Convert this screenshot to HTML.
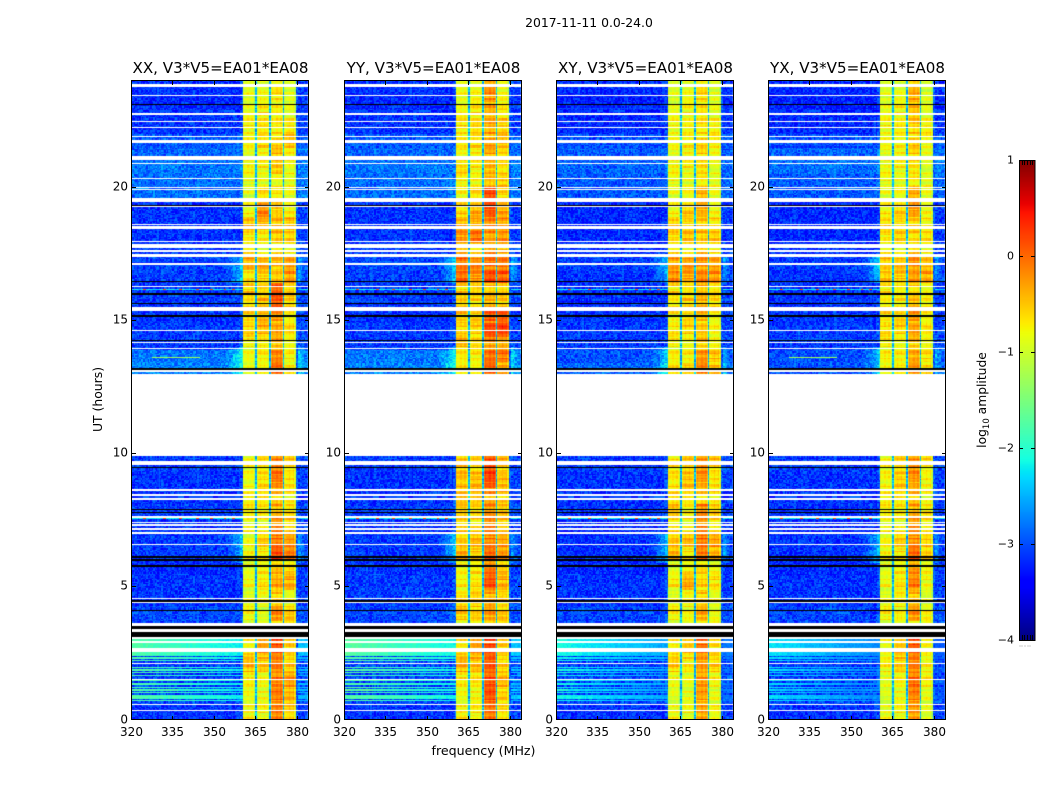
<!DOCTYPE html>
<html lang="en">
<head>
<meta charset="utf-8">
<title>2017-11-11 spectrograms</title>
<style>
html,body{margin:0;padding:0;background:#fff;}
#figure{position:relative;width:1050px;height:800px;overflow:hidden;background:#fff;font-family:"DejaVu Sans","Liberation Sans",sans-serif;}
canvas{position:absolute;display:block;}
#overlay{position:absolute;left:0;top:0;}
text{font-family:"DejaVu Sans","Liberation Sans",sans-serif;fill:#000;}
</style>
</head>
<body>
<div id="figure">
<svg id="overlay" width="1050" height="800" viewBox="0 0 1050 800">
<text x="589" y="27" font-size="12.4" text-anchor="middle">2017-11-11 0.0-24.0</text>
<text x="483.5" y="755" font-size="12.6" text-anchor="middle">frequency (MHz)</text>
<text transform="translate(102,399.5) rotate(-90)" font-size="12.4" text-anchor="middle">UT (hours)</text>
<text transform="translate(986,400) rotate(-90)" font-size="12.3" text-anchor="middle">log<tspan font-size="8.5" dy="3">10</tspan><tspan dy="-3"> amplitude</tspan></text>
</svg>
</div>
<script>
// ---- axis values ----
const freqTicks = [320, 335, 350, 365, 380];
const hourTicks = [0, 5, 10, 15, 20];
const colorbarTicks = [1, 0, -1, -2, -3, -4];
const panelTitles = ["XX, V3*V5=EA01*EA08", "YY, V3*V5=EA01*EA08", "XY, V3*V5=EA01*EA08", "YX, V3*V5=EA01*EA08"];

// ---- time segments: upper hour of each segment, shared by all panels ----
const segmentTopHours = [0.6,1.2,1.8,2.5,3.1,3.7,4.3,4.9,5.5,6.0,6.5,7.0,7.6,8.1,8.7,9.3,9.9,13.0,13.4,13.9,14.4,14.9,15.4,15.9,16.4,16.9,17.4,17.9,18.4,18.9,19.5,20.0,20.5,21.0,21.5,22.0,22.5,23.0,23.5,24.0];

// ---- log10 amplitude per segment: [background, band 1, band 2, band 3, band 4]; null = no data ----
const levelsXX = [
[-3.15,-.85,-.8,-.15,-.55],[-3.05,-.85,-.85,-.2,-.4],[-3.1,-.75,-.8,-.2,-.35],[-3.1,-.55,-.5,-.15,-.55],[-2.95,-.8,-.35,.05,-.5],
[-3.05,-.85,-.8,-.6,-.7],[-3.05,-.9,-.95,-.2,-.5],[-3.15,-.95,-.9,-.6,-.85],[-3.15,-.85,-.65,-.45,-.35],[-3.2,-.95,-.75,-.5,-.7],
[-3.1,-.9,-.7,.1,-.05],[-3.1,-.85,-.6,-.1,-.25],[-3.15,-.85,-.75,-.3,-.5],[-3.1,-.75,-.7,-.45,-.7],[-3.15,-.85,-.7,-.5,-.7],
[-3.15,-.85,-.7,-.15,-.65],[-3.1,-.8,-.6,-.2,-.6],null,
[-2.75,-.95,-.85,-.15,-.7],[-2.8,-.85,-.7,-.2,-.8],[-3.1,-.9,-.7,-.4,-.85],[-3.1,-.65,-.45,-.35,-.6],[-3.15,-.65,-.5,-.4,-.75],
[-3.1,-.7,-.45,0,-.65],[-3.1,-.6,-.55,.1,-.55],[-3.1,-.8,-.6,-.55,-.25],[-3.05,-.4,-.45,-.5,-.3],[-3.1,-.7,-.8,-.8,-.85],
[-3.15,-.7,-.7,-.5,-.6],[-3.15,-.55,-.4,-.45,-.4],[-3.15,-.8,-.25,-.55,-.7],[-2.85,-.95,-.55,-.75,-.85],[-2.85,-.95,-.85,-.8,-.9],
[-2.8,-.85,-.8,-.55,-.8],[-2.9,-.85,-.75,-.5,-.7],[-2.95,-.8,-.6,-.7,-.45],[-3.15,-.8,-.65,-.7,-.75],[-3.15,-.9,-.7,-.75,-.8],
[-3.2,-.9,-.85,-.8,-.9],[-3.15,-.9,-.85,-.75,-.9]];
const levelsYY = [
[-3.15,-.8,-.75,-.1,-.6],[-3.05,-.85,-.8,0,-.55],[-3.05,-.7,-.65,.05,-.5],[-3.05,-.5,-.45,.05,-.55],[-2.9,-.7,-.35,.1,-.5],
[-3.05,-.8,-.75,-.5,-.7],[-3.05,-.6,-.55,-.3,-.5],[-3.1,-.7,-.65,-.4,-.55],[-3.1,-.8,-.65,.0,-.4],[-3.15,-.8,-.7,-.15,-.6],
[-3.1,-.5,-.55,-.05,-.2],[-3.1,-.55,-.5,-.15,-.3],[-3.15,-.6,-.6,-.25,-.45],[-3.1,-.55,-.6,-.25,-.55],[-3.15,-.55,-.5,-.3,-.5],
[-3.15,-.5,-.5,.1,-.45],[-3.1,-.5,-.55,.05,-.5],null,
[-2.75,-.8,-.85,-.15,-.35],[-2.8,-.75,-.7,-.1,-.15],[-3.1,-.55,-.6,-.25,-.4],[-3.1,-.65,-.6,.15,.2],[-3.15,-.55,-.6,-.1,.05],
[-3.1,-.6,-.65,-.5,-.6],[-3.1,-.6,-.55,-.5,-.55],[-3.1,-.1,-.25,.1,.1],[-3.05,-.1,-.25,-.15,-.1],[-3.1,-.45,-.55,-.35,-.45],
[-3.15,-.25,-.05,-.3,-.3],[-3.15,-.5,-.4,-.2,-.25],[-3.15,-.6,-.45,.1,-.3],[-2.85,-.8,-.55,.15,-.6],[-2.85,-.8,-.75,-.45,-.55],
[-2.8,-.7,-.75,-.45,-.6],[-2.9,-.75,-.7,-.4,-.6],[-2.95,-.75,-.6,-.45,-.45],[-3.15,-.7,-.6,-.35,-.6],[-3.15,-.8,-.7,-.4,-.6],
[-3.2,-.85,-.8,-.35,-.75],[-3.15,-.85,-.8,-.3,-.8]];
const levelsXY = [
[-3.15,-.9,-.85,-.35,-.75],[-3.05,-.95,-.9,-.4,-.85],[-3.05,-.85,-.85,-.3,-.85],[-3.1,-.65,-.7,-.3,-.55],[-2.85,-.75,-.55,-.1,-.6],
[-3.05,-.85,-.8,-.65,-.8],[-3.05,-.85,-.8,-.4,-.85],[-3.15,-.95,-.85,-.6,-.85],[-3.15,-.75,-.35,-.7,-.65],[-3.2,-.95,-.75,-.65,-.9],
[-3.15,-.55,-.7,-.15,-.35],[-3.15,-.5,-.5,-.1,-.3],[-3.2,-.7,-.75,-.3,-.6],[-3.15,-.5,-.75,-.2,-.6],[-3.15,-.7,-.7,-.6,-.7],
[-3.15,-.7,-.55,-.35,-.65],[-3.1,-.7,-.5,-.3,-.55],null,
[-2.9,-.7,-.65,-.3,-.45],[-3.0,-.75,-.7,-.3,-.55],[-3.1,-.85,-.8,-.5,-.8],[-3.1,-.75,-.6,-.55,-.75],[-3.15,-.8,-.7,-.6,-.8],
[-3.15,-.75,-.55,-.5,-.7],[-3.15,-.7,-.65,-.45,-.65],[-3.15,-.3,-.35,-.2,-.2],[-3.1,-.35,-.35,-.3,-.3],[-3.15,-.7,-.7,-.6,-.75],
[-3.2,-.6,-.45,-.5,-.55],[-3.2,-.65,-.6,-.55,-.6],[-3.2,-.8,-.6,-.4,-.75],[-2.95,-.9,-.7,-.45,-.85],[-2.95,-.9,-.85,-.7,-.9],
[-2.9,-.85,-.8,-.65,-.85],[-2.95,-.85,-.75,-.65,-.8],[-3.0,-.85,-.7,-.7,-.7],[-3.2,-.85,-.75,-.65,-.8],[-3.2,-.9,-.8,-.7,-.8],
[-3.25,-.95,-.85,-.7,-.9],[-3.2,-.95,-.85,-.7,-.9]];
const levelsYX = [
[-3.15,-.95,-.8,-.3,-.85],[-3.05,-.95,-.85,-.25,-.85],[-3.1,-.9,-.75,-.1,-.8],[-3.1,-.85,-.55,-.15,-.75],[-2.95,-.85,-.55,.0,-.75],
[-3.05,-.9,-.85,-.7,-.85],[-3.05,-.85,-.75,-.25,-.75],[-3.15,-.95,-.8,-.5,-.9],[-3.15,-.85,-.65,-.25,-.8],[-3.2,-.95,-.75,-.3,-.85],
[-3.15,-.9,-.7,-.05,-.5],[-3.15,-.8,-.6,-.2,-.55],[-3.2,-.85,-.75,-.35,-.65],[-3.15,-.75,-.7,-.4,-.75],[-3.15,-.8,-.7,-.45,-.8],
[-3.15,-.8,-.6,-.35,-.75],[-3.1,-.8,-.55,-.3,-.7],null,
[-3.0,-.9,-.8,-.4,-.6],[-3.0,-.75,-.7,-.4,-.7],[-3.1,-.85,-.8,-.5,-.85],[-3.1,-.7,-.6,-.35,-.65],[-3.15,-.7,-.65,-.4,-.75],
[-3.15,-.8,-.7,-.55,-.8],[-3.15,-.75,-.7,-.6,-.8],[-3.15,-.6,-.55,-.3,-.3],[-3.1,-.55,-.55,-.3,-.45],[-3.15,-.8,-.75,-.65,-.85],
[-3.2,-.7,-.55,-.6,-.7],[-3.2,-.7,-.65,-.6,-.7],[-3.2,-.75,-.65,-.3,-.75],[-2.95,-.9,-.75,-.4,-.85],[-2.95,-.9,-.85,-.7,-.9],
[-2.85,-.9,-.8,-.7,-.9],[-2.9,-.85,-.75,-.6,-.85],[-3.0,-.85,-.75,-.65,-.8],[-3.2,-.85,-.7,-.55,-.8],[-3.2,-.9,-.8,-.5,-.85],
[-3.25,-.9,-.85,-.45,-.9],[-3.2,-.95,-.9,-.5,-.95]];
const panelLevels = [levelsXX, levelsYY, levelsXY, levelsYX];

// ---- frequency structure: 4 bands, in MHz ----
const bandStarts = [360.5, 365.5, 370.5, 375.5];
const bandEnds = [364.9, 369.9, 374.9, 379.6];
const bandGapLevels = [-2.5, -2.5, -2.5, -2.95];

// ---- hour ranges where the band edges leak into the neighbouring background ----
const shoulderStarts = [2.5, 5.9, 13.0, 16.4];
const shoulderEnds = [3.1, 7.0, 14.0, 17.4];

// ---- hours of narrow horizontal interference stripes, and per-panel stripe level ----
const stripeHours = [3.05,2.97,2.9,2.82,2.75,2.68,2.5,2.41,2.32,2.23,2.13,1.98,1.88,1.78,1.67,1.5,1.35,1.23,1.13,1.03,.9,.82,.73];
const stripeLevels = [-1.75, -1.7, -2.1, -2.25];

// ---- hours of rows carrying sparse strong spikes, and the spike frequencies ----
const spikeHours = [16.19, 7.59, 9.69];
const spikeFreqs = [325, 332, 338, 344, 349, 354, 357];
const spikeRowLevels = [-2.2, -2.2, -2.0];

// ---- narrow vertical interference: frequency, start hour, end hour, level ----
const rfiFreqs = [340, 340, 351.5, 351.5, 350, 381.5];
const rfiStarts = [4.7, 13.7, 6.5, 14, 20, 5];
const rfiEnds = [6.9, 16.3, 9.5, 21.3, 22, 9.5];
const rfiLevels = [-2.2, -2.2, -2.3, -2.3, -2.1, -2.0];

// ---- narrow-band tone seen on a single panel: panel index, hour, start and end frequency ----
const tonePanels = [0, 3];
const toneHours = [13.63, 13.63];
const toneStarts = [327.5, 327.5];
const toneEnds = [345, 345];

// ---- flagged rows (white) and dead rows (black): centre hour and thickness in hours ----
const whiteHours = [23.84,23.46,22.76,22.48,22.26,21.92,21.77,21.71,21.15,21.07,20.91,20.34,19.94,19.54,19.30,18.62,18.52,18.47,17.97,17.85,17.76,17.61,17.47,17.42,17.13,16.28,15.47,15.40,14.63,14.19,13.96,13.11,9.72,9.63,8.64,8.45,8.30,7.62,7.43,7.32,7.17,7.03,6.59,4.57,4.41,3.59,3.36,3.08,2.93,2.63,2.12,1.52,.59,.36];
const whiteThickness = [.1,.05,.05,.05,.05,.05,.05,.05,.05,.05,.05,.05,.04,.16,.05,.05,.04,.05,.05,.05,.05,.05,.05,.04,.05,.05,.05,.05,.05,.05,.05,.05,.05,.1,.08,.05,.05,.05,.05,.05,.05,.05,.05,.05,.05,.11,.1,.05,.05,.13,.04,.03,.05,.05];
const blackHours = [23.12,19.32,16.47,15.99,15.65,15.17,14.25,13.18,9.49,7.91,7.8,6.13,6.01,5.78,4.48,4.11,3.47,3.21];
const blackThickness = [.05,.05,.05,.06,.05,.06,.05,.08,.05,.05,.05,.06,.08,.06,.05,.05,.11,.19];

// ---- hand-typed fine grain (a fixed texture, not measured pixel values) ----
const grainTile = [.31,-.72,.08,.93,-.41,-.12,.66,-.95,.22,.47,-.58,.14,-.29,.81,-.66,.03,.52,-.84,.38,-.18,.71,-.47,.11,-.77,.59,-.06,.88,-.33,.25,-.61,.42,-.91,.17,.75,-.24,.55,-.52,-.09,.97,-.38,.29];

// ---- cell grid and layout ----
const CH_WIDTH = 0.5;
const ROW_HEIGHT = 0.05;
const freqMin = 320, freqMax = 384, hourMin = 0, hourMax = 24;
const panelLefts = [131, 344, 556, 768];
const panelW = 177, panelTop = 81, panelH = 639;
const cbarLeft = 1019, cbarW = 16, cbarTop = 160, cbarH = 480;
const ampMin = -4, ampMax = 1;

const figure = document.getElementById('figure');
const overlay = document.getElementById('overlay');
const SVG_NS = 'http://www.w3.org/2000/svg';

function xScale(mhz, left) { return left + (mhz - freqMin) / (freqMax - freqMin) * panelW; }
function yScale(hour) { return panelTop + panelH - (hour - hourMin) / (hourMax - hourMin) * panelH; }
function ampScale(v) { return cbarTop + cbarH - (v - ampMin) / (ampMax - ampMin) * cbarH; }

function interp(t, xs, ys) {
  if (t <= xs[0]) return ys[0];
  for (let i = 1; i < xs.length; i++) {
    if (t <= xs[i]) return ys[i - 1] + (ys[i] - ys[i - 1]) * (t - xs[i - 1]) / (xs[i] - xs[i - 1]);
  }
  return ys[ys.length - 1];
}
function jet(v) {
  const t = Math.max(0, Math.min(1, (v - ampMin) / (ampMax - ampMin)));
  const r = interp(t, [0, .35, .66, .89, 1], [0, 0, 1, 1, .5]);
  const g = interp(t, [0, .125, .375, .64, .91, 1], [0, 0, 1, 1, 0, 0]);
  const b = interp(t, [0, .11, .34, .65, 1], [.5, 1, 1, 0, 0]);
  return 'rgb(' + Math.round(r * 255) + ',' + Math.round(g * 255) + ',' + Math.round(b * 255) + ')';
}
function segmentIndex(hour) {
  for (let i = 0; i < segmentTopHours.length; i++) if (hour < segmentTopHours[i]) return i;
  return segmentTopHours.length - 1;
}
function grain(c, r, salt) {
  const n = grainTile.length;
  return grainTile[(c * 7 + r * 13 + (c * r) % 29 + salt * 5) % n];
}
function inShoulder(hour) {
  for (let i = 0; i < shoulderStarts.length; i++) if (hour >= shoulderStarts[i] && hour < shoulderEnds[i]) return true;
  return false;
}
function cellValue(p, c, r, mhz, hour) {
  const lv = panelLevels[p][segmentIndex(hour)];
  if (!lv) return null;
  const g = grain(c, r, p);
  let band = -1;
  for (let b = 0; b < 4; b++) if (mhz >= bandStarts[b] && mhz < bandEnds[b]) band = b;
  if (band >= 0) {
    const rowWobble = grainTile[(r * 3 + band * 11) % grainTile.length] * .18;
    const ripple = (r % 5 < 2 ? .14 : -.05) + (c % 3 === 0 ? .08 : -.04);
    let v = lv[band + 1] + rowWobble + ripple + g * .08;
    if (mhz - bandStarts[band] < .5 || bandEnds[band] - mhz < .5) v -= band === 0 && mhz < 361 ? .08 : .2;
    return v;
  }
  for (let b = 0; b < 4; b++) {
    if (mhz >= bandEnds[b] && mhz < bandEnds[b] + .7) return bandGapLevels[b] + g * .35;
  }
  let v = lv[0] + g * .35;
  if (mhz >= 380.4) v += .06;
  if (mhz > 359 && mhz < 360.5) v += (mhz - 359) / 1.5 * .2;
  if (inShoulder(hour)) {
    if (mhz > 354 && mhz < 360.5) v += (mhz - 354) / 6.5 * .6;
    if (mhz >= 380.4 && mhz < 383) v += (383 - mhz) / 2.6 * .5;
  }
  if (mhz < 360.5 || mhz >= 380.4) {
    for (let s = 0; s < stripeHours.length; s++) {
      if (Math.abs(hour - stripeHours[s]) < .03) v = stripeLevels[p] + g * .12 - (mhz - 320) / 40 * .45;
    }
    for (let s = 0; s < spikeHours.length; s++) {
      if (Math.abs(hour - spikeHours[s]) < .03) {
        v = spikeRowLevels[s] + g * .2;
        for (let k = 0; k < spikeFreqs.length; k++) if (Math.abs(mhz - spikeFreqs[k]) < .6) v = .1;
      }
    }
    for (let s = 0; s < rfiFreqs.length; s++) {
      if (Math.abs(mhz - rfiFreqs[s]) < .25 && hour >= rfiStarts[s] && hour <= rfiEnds[s]) v = rfiLevels[s] + g * .15;
    }
    for (let s = 0; s < tonePanels.length; s++) {
      if (tonePanels[s] === p && Math.abs(hour - toneHours[s]) < .03 && mhz >= toneStarts[s] && mhz <= toneEnds[s]) v = -1.3;
    }
  }
  return v;
}

function makeCanvas(left, top, w, h, name) {
  const cv = document.createElement('canvas');
  cv.width = w;
  cv.height = h;
  cv.style.left = left + 'px';
  cv.style.top = top + 'px';
  
  
  figure.insertBefore(cv, overlay);
  return cv.getContext('2d');
}

function drawPanel(p) {
  const left = panelLefts[p];
  const ctx = makeCanvas(left, panelTop, panelW + 1, panelH, 'heatmap-' + panelTitles[p].slice(0, 2).toLowerCase());
  const nCh = Math.round((freqMax - freqMin) / CH_WIDTH);
  const nRow = Math.round((hourMax - hourMin) / ROW_HEIGHT);
  for (let r = 0; r < nRow; r++) {
    const hour = hourMin + (r + .5) * ROW_HEIGHT;
    const y0 = Math.round(yScale(hour + ROW_HEIGHT / 2)) - panelTop;
    const y1 = Math.round(yScale(hour - ROW_HEIGHT / 2)) - panelTop;
    if (y1 <= y0) continue;
    for (let c = 0; c < nCh; c++) {
      const mhz = freqMin + (c + .5) * CH_WIDTH;
      const v = cellValue(p, c, r, mhz, hour);
      if (v === null) continue;
      const x0 = Math.round(xScale(mhz - CH_WIDTH / 2, left)) - left;
      const x1 = Math.round(xScale(mhz + CH_WIDTH / 2, left)) - left;
      ctx.fillStyle = jet(v);
      ctx.fillRect(x0, y0, x1 - x0, y1 - y0);
    }
  }
  function band(hour, th, color) {
    const yA = Math.round(yScale(hour + th / 2)) - panelTop;
    const yB = yScale(hour - th / 2) - panelTop;
    ctx.fillStyle = color;
    ctx.fillRect(0, yA, panelW + 1, Math.max(1, Math.round(yB - yA + .2)));
  }
  whiteHours.forEach(function (h, i) { band(h, whiteThickness[i], '#fff'); });
  blackHours.forEach(function (h, i) { band(h, blackThickness[i], '#000'); });

  const g = document.createElementNS(SVG_NS, 'g');
  
  
  overlay.appendChild(g);

  const frame = document.createElementNS(SVG_NS, 'rect');
  frame.setAttribute('x', left + .5);
  frame.setAttribute('y', panelTop - .5);
  frame.setAttribute('width', panelW);
  frame.setAttribute('height', panelH);
  frame.setAttribute('fill', 'none');
  frame.setAttribute('stroke', '#000');
  frame.setAttribute('stroke-width', '1');
  
  
  g.appendChild(frame);

  const title = document.createElementNS(SVG_NS, 'text');
  title.setAttribute('x', left + panelW / 2 + 1);
  title.setAttribute('y', 73);
  title.setAttribute('font-size', '15.1');
  title.setAttribute('text-anchor', 'middle');
  title.textContent = panelTitles[p];
  
  
  g.appendChild(title);

  freqTicks.forEach(function (f) {
    const x = Math.round(xScale(f, left)) + .5;
    [[panelTop, panelTop + 4], [panelTop + panelH, panelTop + panelH - 4]].forEach(function (pair) {
      const tick = document.createElementNS(SVG_NS, 'line');
      tick.setAttribute('x1', x);
      tick.setAttribute('x2', x);
      tick.setAttribute('y1', pair[0]);
      tick.setAttribute('y2', pair[1]);
      tick.setAttribute('stroke', '#000');
      tick.setAttribute('stroke-width', '1');
      
      
      g.appendChild(tick);
    });
    const label = document.createElementNS(SVG_NS, 'text');
    label.setAttribute('x', x);
    label.setAttribute('y', 736);
    label.setAttribute('font-size', '12');
    label.setAttribute('text-anchor', 'middle');
    label.textContent = f;
    
    
    g.appendChild(label);
  });
  hourTicks.forEach(function (h) {
    const y = Math.round(yScale(h)) - .5;
    [[left + 1, left + 5], [left + panelW + 1, left + panelW - 3]].forEach(function (pair) {
      const tick = document.createElementNS(SVG_NS, 'line');
      tick.setAttribute('x1', pair[0]);
      tick.setAttribute('x2', pair[1]);
      tick.setAttribute('y1', y);
      tick.setAttribute('y2', y);
      tick.setAttribute('stroke', '#000');
      tick.setAttribute('stroke-width', '1');
      
      
      g.appendChild(tick);
    });
    const label = document.createElementNS(SVG_NS, 'text');
    label.setAttribute('x', left - 3);
    label.setAttribute('y', y + (h === 0 ? 4 : 3));
    label.setAttribute('font-size', '12');
    label.setAttribute('text-anchor', 'end');
    label.textContent = h;
    
    
    g.appendChild(label);
  });
}

function drawColorbar() {
  const ctx = makeCanvas(cbarLeft, cbarTop, cbarW, cbarH, 'colorbar-gradient');
  for (let py = 0; py < cbarH; py++) {
    const v = ampMax - (py + .5) / cbarH * (ampMax - ampMin);
    ctx.fillStyle = jet(v);
    ctx.fillRect(0, py, cbarW, 1);
  }
  const g = document.createElementNS(SVG_NS, 'g');
  
  
  overlay.appendChild(g);

  const frame = document.createElementNS(SVG_NS, 'rect');
  frame.setAttribute('x', cbarLeft + .5);
  frame.setAttribute('y', cbarTop + .5);
  frame.setAttribute('width', cbarW - .5);
  frame.setAttribute('height', cbarH);
  frame.setAttribute('fill', 'none');
  frame.setAttribute('stroke', '#000');
  frame.setAttribute('stroke-width', '1');
  
  
  g.appendChild(frame);

  colorbarTicks.forEach(function (v) {
    const y = Math.round(ampScale(v)) + .5;
    [[cbarLeft, cbarLeft + 4], [cbarLeft + cbarW, cbarLeft + cbarW - 4]].forEach(function (pair) {
      const tick = document.createElementNS(SVG_NS, 'line');
      tick.setAttribute('x1', pair[0]);
      tick.setAttribute('x2', pair[1]);
      tick.setAttribute('y1', y);
      tick.setAttribute('y2', y);
      tick.setAttribute('stroke', '#000');
      tick.setAttribute('stroke-width', '1');
      
      
      g.appendChild(tick);
    });
    const label = document.createElementNS(SVG_NS, 'text');
    label.setAttribute('x', cbarLeft - 5);
    label.setAttribute('y', y + 3);
    label.setAttribute('font-size', '11');
    label.setAttribute('text-anchor', 'end');
    label.textContent = v < 0 ? '\u2212' + Math.abs(v) : String(v);
    
    
    g.appendChild(label);
  });
  for (let k = 1; k < 6; k++) {
    const x = Math.round(cbarLeft + k * cbarW / 6) + .5;
    [[cbarTop, cbarTop + 5], [cbarTop + cbarH, cbarTop + cbarH - 5]].forEach(function (pair) {
      const tick = document.createElementNS(SVG_NS, 'line');
      tick.setAttribute('x1', x);
      tick.setAttribute('x2', x);
      tick.setAttribute('y1', pair[0]);
      tick.setAttribute('y2', pair[1]);
      tick.setAttribute('stroke', '#000');
      tick.setAttribute('stroke-width', '1');
      
      
      g.appendChild(tick);
    });
    const dot = document.createElementNS(SVG_NS, 'rect');
    dot.setAttribute('x', x - 3);
    dot.setAttribute('y', 645.5);
    dot.setAttribute('width', 1);
    dot.setAttribute('height', 1);
    dot.setAttribute('fill', '#999');
    
    
    g.appendChild(dot);
  }
}

panelLefts.forEach(function (_, p) { drawPanel(p); });
drawColorbar();
</script>
</body>
</html>
